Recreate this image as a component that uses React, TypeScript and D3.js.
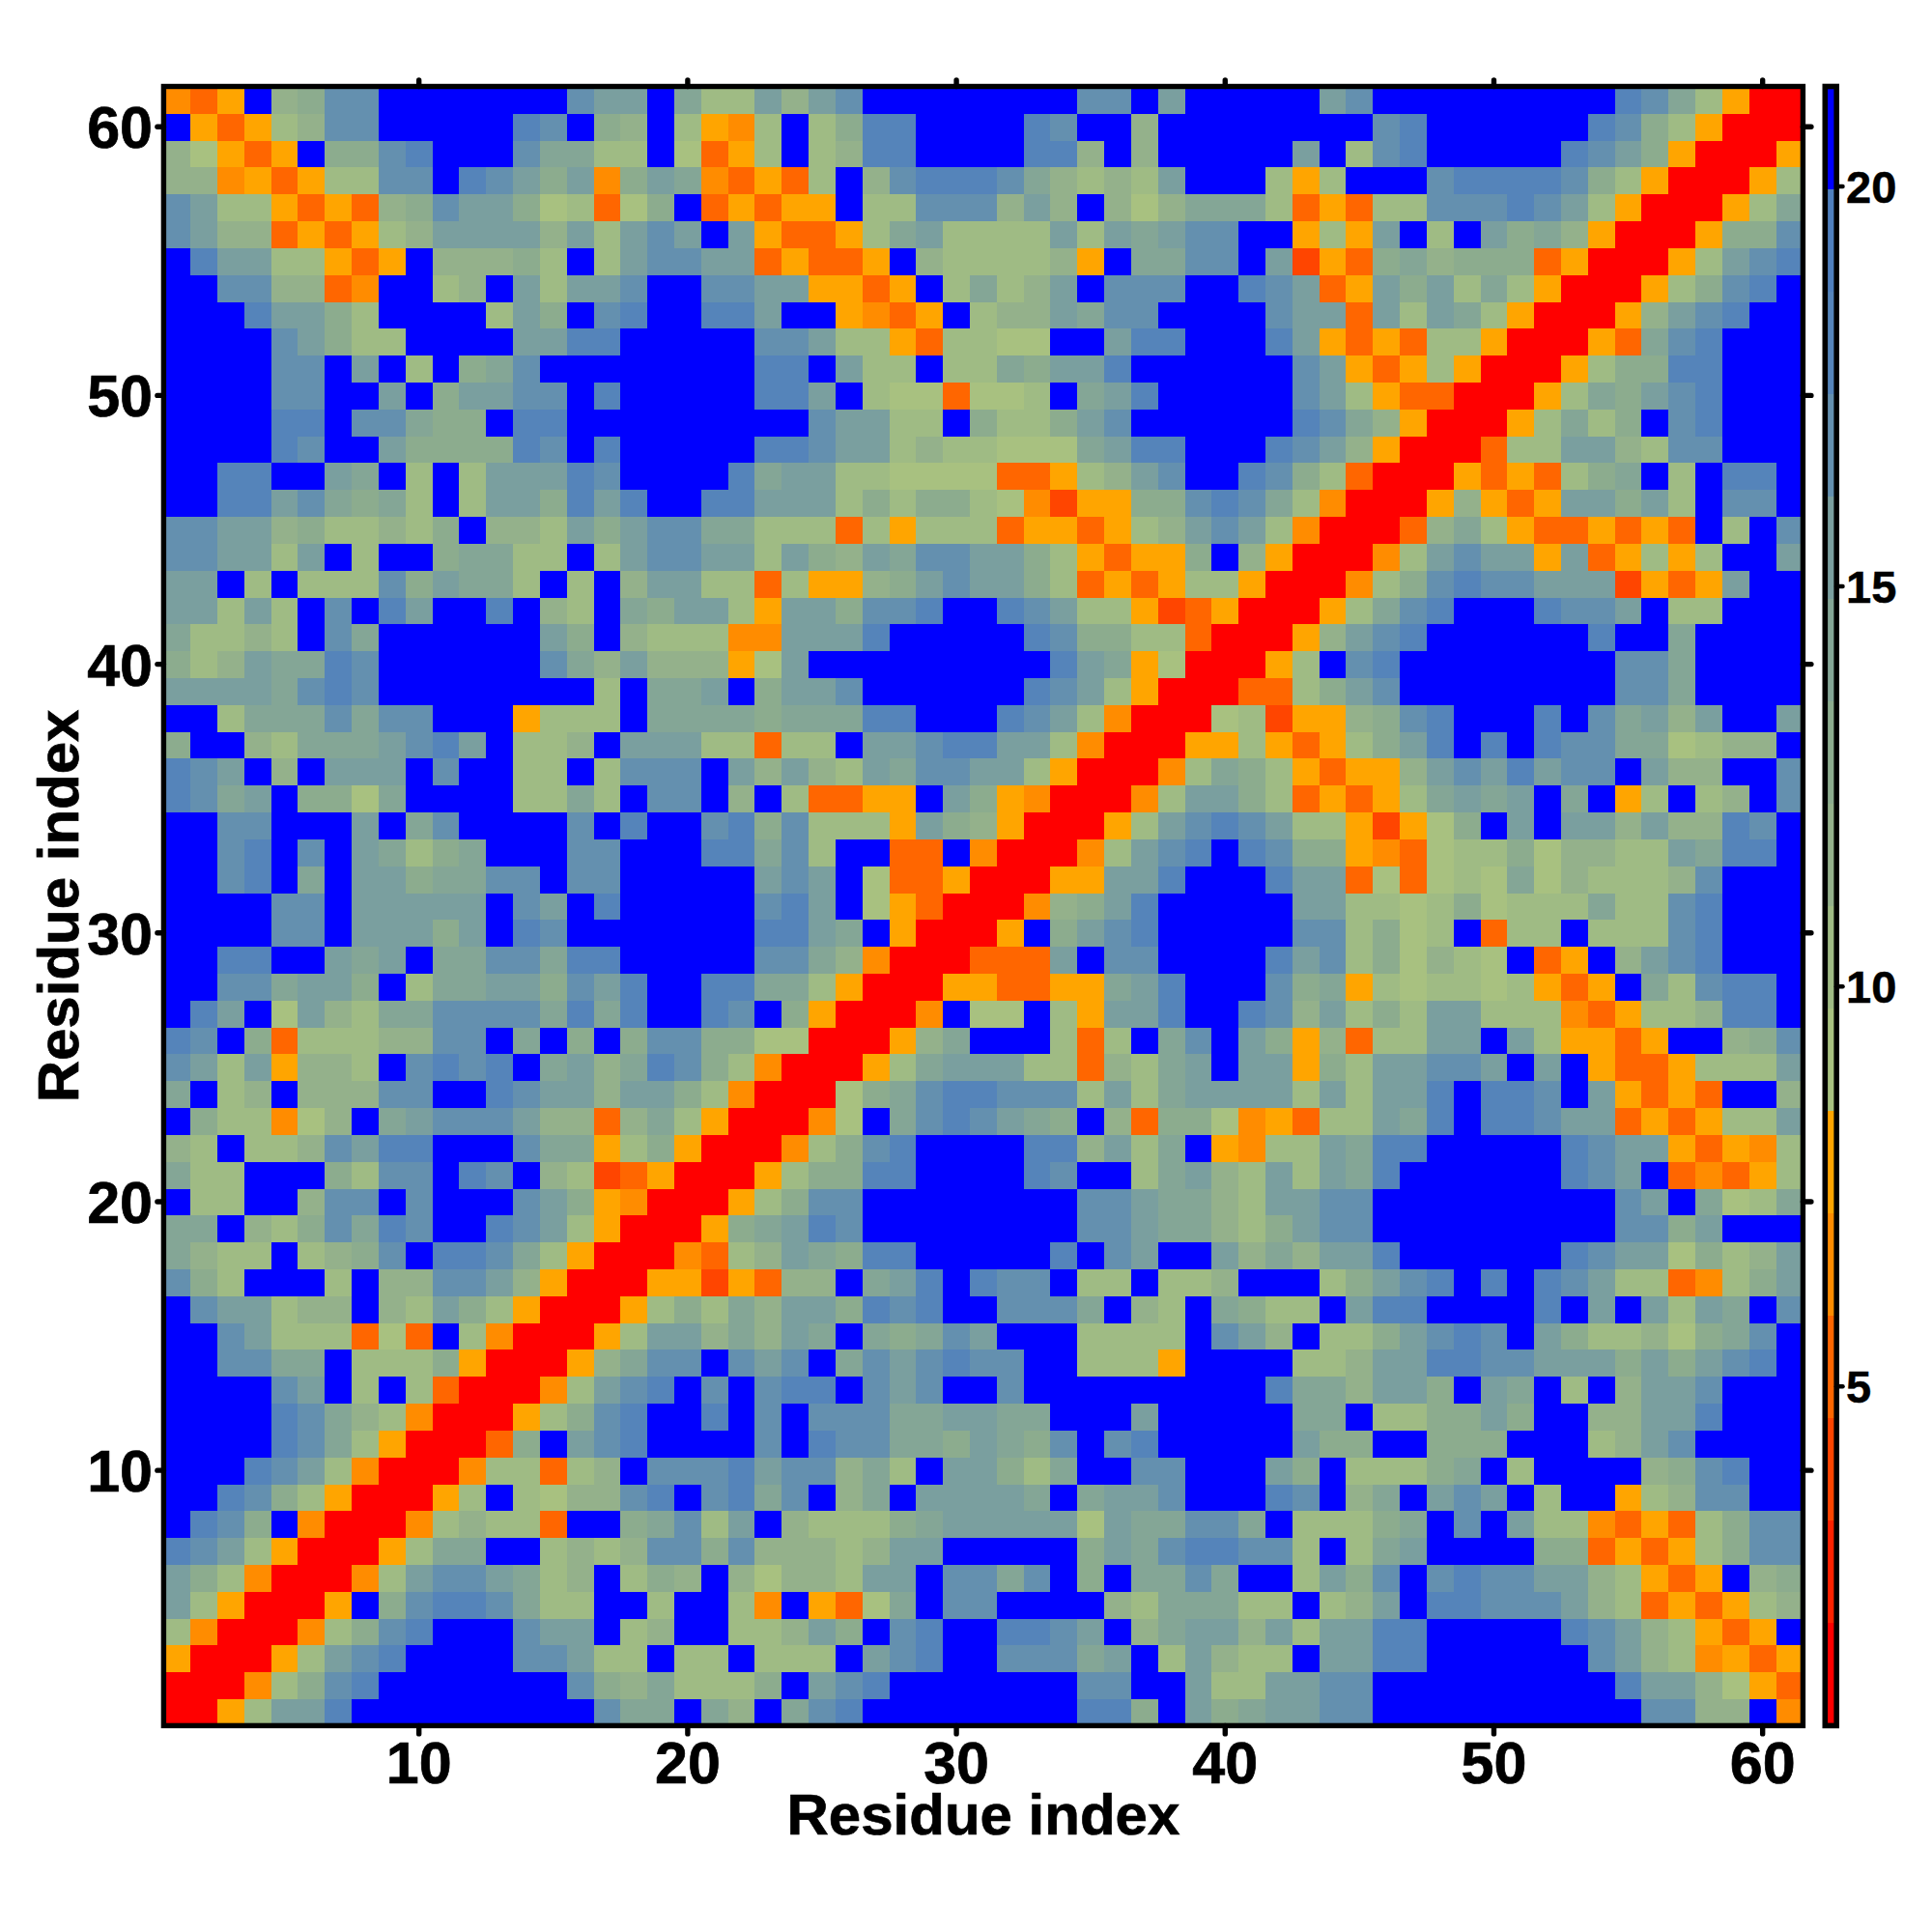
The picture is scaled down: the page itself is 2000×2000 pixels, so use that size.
import React from "react";
import * as d3 from "d3";

const residues: number[] = d3.range(1, 62);
const axisTicks = [10, 20, 30, 40, 50, 60];
const colourTicks = [5, 10, 15, 20];
const colourDomain: [number, number] = [0.76, 21.25];
const palette = [
  "#ff0000", "#ff2200", "#ff4500", "#ff6600", "#ff8c00", "#ffa500",
  "#a8c180", "#9fbb84", "#94b18b", "#8cac8e", "#84a696", "#7a9f9f",
  "#6490af", "#5584ba", "#4f7fbd", "#0000ff",
];

// Distances above the diagonal: first list is residue 61, x = 1 .. 60
const distanceRows: number[][] = [
  [7,5,8,21,12,13,17,17,21,21,21,21,21,21,21,17,15,15,21,14,10,10,15,12,15,17,21,21,21,21,21,21,21,21,17,17,21,15,21,21,21,21,21,15,17,21,21,21,21,21,21,21,21,21,18,17,14,10,8,1],
  [21,8,5,8,10,12,17,17,21,21,21,21,21,18,17,21,13,12,21,10,8,7,10,21,10,13,18,18,21,21,21,21,18,17,21,21,12,21,21,21,21,21,21,21,21,17,18,21,21,21,21,21,21,18,17,13,10,8,1],
  [12,9,8,5,8,21,13,13,17,18,21,21,21,17,14,14,10,10,21,9,5,8,10,21,10,12,18,18,21,21,21,21,18,18,12,21,12,21,21,21,21,21,15,21,10,17,18,21,21,21,21,21,18,17,15,13,8,1],
  [12,12,7,8,5,8,10,10,17,17,21,18,17,15,13,15,7,13,15,14,7,5,8,5,10,21,12,17,18,18,18,17,14,12,10,12,10,15,21,21,21,10,8,10,21,21,21,17,18,18,18,18,17,13,10,8,1],
  [17,15,10,10,8,5,8,5,12,13,17,15,15,13,9,10,5,9,13,21,5,8,5,8,8,21,10,10,17,17,17,12,15,12,21,12,9,12,14,14,14,10,5,8,5,10,10,17,17,17,18,17,15,10,8,1],
  [17,15,12,12,5,8,5,8,10,12,15,15,15,15,12,15,10,15,17,15,21,15,8,5,5,8,10,14,15,10,10,10,10,15,10,15,14,15,17,17,21,21,8,10,8,15,21,10,21,15,13,14,12,8,1],
  [21,18,15,15,10,10,8,5,8,21,12,12,12,13,10,21,10,15,17,17,15,15,5,8,5,5,8,21,12,10,10,10,10,12,8,21,14,14,17,17,21,15,4,8,5,13,14,12,13,13,13,5,8,1],
  [21,21,17,17,12,12,5,7,21,21,10,12,21,15,10,15,15,17,21,21,17,17,15,15,8,8,5,8,21,10,14,10,12,15,21,17,17,17,21,21,18,17,15,5,8,15,13,15,10,14,10,8,1],
  [21,21,21,18,15,15,13,10,21,21,21,21,10,15,13,21,17,18,21,21,18,18,15,21,21,8,7,5,8,21,10,12,12,15,14,17,17,21,21,21,21,17,15,15,5,15,10,15,14,10,8,1],
  [21,21,21,21,17,15,13,10,10,21,21,21,21,15,15,18,18,21,21,21,21,21,17,17,15,10,10,8,5,10,10,9,9,21,21,15,18,18,21,21,21,18,15,8,5,8,5,10,10,8,1],
  [21,21,21,21,17,17,21,15,21,10,21,13,14,17,21,21,21,21,21,21,21,21,18,18,21,15,10,10,21,10,10,14,13,15,15,18,21,21,21,21,21,21,17,15,8,5,8,10,8,1],
  [21,21,21,21,17,17,21,21,15,21,13,15,15,17,17,21,18,21,21,21,21,21,18,18,15,21,10,9,9,5,9,9,10,21,14,15,18,21,21,21,21,21,17,15,10,8,5,5,1],
  [21,21,21,21,18,18,21,17,17,14,13,13,21,18,18,21,21,21,21,21,21,21,21,21,17,15,15,10,10,21,13,10,10,13,15,17,21,21,21,21,21,21,18,17,14,12,8,1],
  [21,21,21,21,18,17,21,21,15,13,13,13,13,18,17,21,18,21,21,21,21,21,18,18,17,15,15,10,12,10,10,9,9,9,14,15,18,18,21,21,21,18,17,15,12,8,1],
  [21,21,18,18,21,21,15,14,21,10,21,10,15,15,15,18,17,21,21,21,21,18,14,15,15,10,10,9,9,9,9,5,5,8,10,12,15,17,21,21,18,17,13,10,5,1],
  [21,21,18,18,15,17,14,13,14,10,21,10,15,15,13,18,15,18,21,21,18,18,15,15,15,10,13,10,13,13,10,9,7,4,8,8,13,13,17,18,17,14,10,7,1],
  [17,17,15,15,12,13,10,10,12,10,13,21,12,12,10,15,13,15,17,17,14,14,10,10,10,5,10,8,10,10,10,5,8,8,5,8,10,12,15,17,15,10,7,1],
  [17,17,15,15,10,15,21,10,21,21,13,14,14,10,10,21,10,15,17,17,15,15,10,15,13,12,15,14,17,17,15,15,13,10,8,5,8,8,13,21,12,8,1],
  [15,15,21,10,21,10,10,10,17,13,15,14,14,10,21,10,21,12,15,15,10,10,5,10,8,8,12,13,15,17,15,15,13,10,5,8,5,8,10,10,8,1],
  [15,15,10,15,10,21,17,21,18,15,21,21,18,21,12,10,21,14,13,15,15,10,8,15,15,13,17,17,18,21,21,18,17,15,10,10,8,4,5,8,1],
  [14,10,10,12,10,21,17,14,21,21,21,21,21,21,15,13,21,12,10,10,10,7,7,15,15,15,18,21,21,21,21,21,18,17,13,13,10,10,5,1],
  [13,10,12,15,14,14,18,17,21,21,21,21,21,21,17,14,12,15,12,12,12,8,9,15,21,21,21,21,21,21,21,21,21,18,15,14,8,9,1],
  [15,15,15,15,14,17,18,17,21,21,21,21,21,21,21,21,10,21,14,14,15,21,13,15,15,17,21,21,21,21,21,21,18,17,15,10,8,1],
  [21,21,10,14,14,14,17,14,17,17,21,21,21,8,10,10,10,21,14,14,14,14,13,14,14,14,18,18,21,21,21,18,17,15,10,7,1],
  [13,21,21,12,10,14,14,14,15,17,18,15,21,10,10,12,21,15,15,15,10,10,5,10,10,21,15,15,17,18,18,15,15,10,7,1],
  [18,17,15,21,12,21,15,15,15,21,17,21,21,10,10,21,10,17,17,17,21,15,12,15,12,10,15,14,17,17,15,15,10,8,1],
  [18,17,14,15,21,13,13,9,14,21,21,21,21,10,10,14,10,21,17,17,21,12,21,10,5,5,8,8,21,15,13,8,7,1],
  [21,21,17,17,21,21,21,15,21,14,17,21,21,21,21,17,21,18,21,21,17,18,13,17,10,10,10,8,15,13,12,8,1],
  [21,21,17,18,21,17,21,15,14,10,13,14,21,21,21,17,17,21,21,21,18,18,14,17,10,21,21,5,5,21,7,1],
  [21,21,17,18,21,14,21,15,15,13,14,14,17,17,21,17,17,21,21,21,21,21,15,17,15,21,9,5,5,8,1],
  [21,21,21,21,17,17,21,15,15,15,15,15,21,17,15,21,18,21,21,21,21,21,17,18,15,21,9,8,5,1],
  [21,21,21,21,17,17,21,15,15,15,13,15,21,18,17,21,21,21,21,21,21,21,18,18,15,14,21,8,1],
  [21,21,18,18,21,21,15,14,15,21,14,14,17,17,14,18,18,21,21,21,21,21,17,17,14,12,7,1],
  [21,21,17,17,14,15,15,13,21,10,14,14,15,15,13,17,15,18,21,21,18,18,14,14,10,8,1],
  [21,18,15,21,9,15,12,10,14,14,17,17,17,17,14,18,14,18,21,21,18,17,21,13,8,1],
  [18,17,21,13,5,10,10,10,12,12,17,17,21,14,21,13,21,13,17,17,13,13,9,9,1],
  [17,15,10,15,8,12,12,10,21,17,18,17,18,21,14,15,12,14,18,17,13,10,7,1],
  [14,21,10,12,21,12,12,12,17,17,21,21,18,17,15,15,12,15,15,13,10,7,1],
  [21,13,10,10,7,9,12,21,14,15,17,17,17,15,12,12,5,12,14,10,8,1],
  [12,10,21,10,10,12,17,15,18,18,21,21,21,17,14,14,8,10,13,8,1],
  [14,10,10,21,21,21,13,10,17,17,21,18,17,21,12,10,4,5,8,1],
  [21,10,10,21,21,12,17,17,21,17,21,21,21,17,15,13,8,7,1],
  [14,14,21,12,10,13,17,14,18,17,21,21,18,17,15,10,8,1],
  [14,12,10,10,21,10,12,13,17,21,18,18,17,14,10,8,1],
  [17,13,10,21,21,21,10,21,12,12,17,17,15,12,8,1],
  [21,17,15,15,10,12,12,21,12,10,15,13,10,8,1],
  [21,21,17,15,10,10,10,5,9,5,21,10,7,1],
  [21,21,17,17,14,14,21,10,10,10,13,8,1],
  [21,21,21,21,17,15,21,10,21,10,5,1],
  [21,21,21,21,18,17,14,12,10,7,1],
  [21,21,21,21,18,17,14,10,8,1],
  [21,21,21,18,17,15,10,7,1],
  [21,21,18,17,13,10,8,1],
  [21,18,17,13,21,7,1],
  [18,17,15,10,8,1],
  [15,13,10,7,1],
  [15,10,8,1],
  [10,7,1],
  [8,1],
  [1],
];

const WIDTH = 2000;
const HEIGHT = 2000;
const FONT = "'Liberation Sans', Arial, sans-serif";

function distance(a: number, b: number): number {
  if (a === b) return 1;
  const hi = Math.max(a, b);
  const lo = Math.min(a, b);
  return distanceRows[61 - hi][lo - 1];
}

export default function App() {
  const left = 169.4, right = 1866.4, top = 89.5, bottom = 1786.4;
  const x = d3.scaleLinear().domain([0.5, 61.5]).range([left, right]);
  const y = d3.scaleLinear().domain([0.5, 61.5]).range([bottom, top]);
  const colour = d3.scaleQuantize<string>().domain(colourDomain).range(palette);
  const cb = d3.scaleLinear().domain(colourDomain).range([bottom, top]);
  const bandEdges = d3.range(palette.length).map((i) => colour.invertExtent(palette[i]) as [number, number]);

  return (
    <svg
      width={WIDTH}
      height={HEIGHT}
      viewBox={`0 0 ${WIDTH} ${HEIGHT}`}
      style={{ position: "fixed", left: 0, top: 0, background: "#fff" }}
      fontFamily={FONT}
      fontWeight="bold"
    >
      <g shapeRendering="crispEdges">
        {residues.map((ry) =>
          residues.map((rx) => (
            <rect
              key={`${rx}-${ry}`}
              x={x(rx - 0.5)}
              y={y(ry + 0.5)}
              width={x(rx + 0.5) - x(rx - 0.5) + 0.5}
              height={y(ry - 0.5) - y(ry + 0.5) + 0.5}
              fill={colour(distance(rx, ry))}
            />
          ))
        )}
      </g>
      <rect x={left} y={top} width={right - left} height={bottom - top} fill="none" stroke="#000" strokeWidth={5.4} />
      {axisTicks.map((t) => (
        <g key={t} stroke="#000" strokeWidth={5.4} strokeLinecap="round">
          <line x1={x(t)} x2={x(t)} y1={bottom} y2={bottom + 8.5} />
          <line x1={x(t)} x2={x(t)} y1={top} y2={top - 6.5} />
          <line y1={y(t)} y2={y(t)} x1={left} x2={left - 6.5} />
          <line y1={y(t)} y2={y(t)} x1={right} x2={right + 8.5} />
        </g>
      ))}
      <g stroke="#000" strokeWidth={0.7}>
        {axisTicks.map((t) => (
          <text key={`x${t}`} x={x(t)} y={1846} textAnchor="middle" fontSize={61}>{t}</text>
        ))}
        {axisTicks.map((t) => (
          <text key={`y${t}`} x={158} y={y(t) + 22} textAnchor="end" fontSize={61}>{t}</text>
        ))}
        <text x={(left + right) / 2} y={1899} textAnchor="middle" fontSize={60}>Residue index</text>
        <text transform={`translate(81,${(top + bottom) / 2}) rotate(-90)`} textAnchor="middle" fontSize={60}>Residue index</text>
      </g>

      <g shapeRendering="crispEdges">
        {palette.map((c, i) => (
          <rect
            key={c}
            x={1889.3}
            width={11.9}
            y={cb(bandEdges[i][1])}
            height={cb(bandEdges[i][0]) - cb(bandEdges[i][1])}
            fill={c}
          />
        ))}
      </g>
      <rect x={1889.3} y={top} width={11.9} height={bottom - top} fill="none" stroke="#000" strokeWidth={5.6} />
      {colourTicks.map((t) => (
        <g key={`c${t}`}>
          <line x1={1901} x2={1907.5} y1={cb(t)} y2={cb(t)} stroke="#000" strokeWidth={4.5} strokeLinecap="round" />
          <text x={1911} y={cb(t) + 16.5} fontSize={47} stroke="#000" strokeWidth={0.5}>{t}</text>
        </g>
      ))}
    </svg>
  );
}
